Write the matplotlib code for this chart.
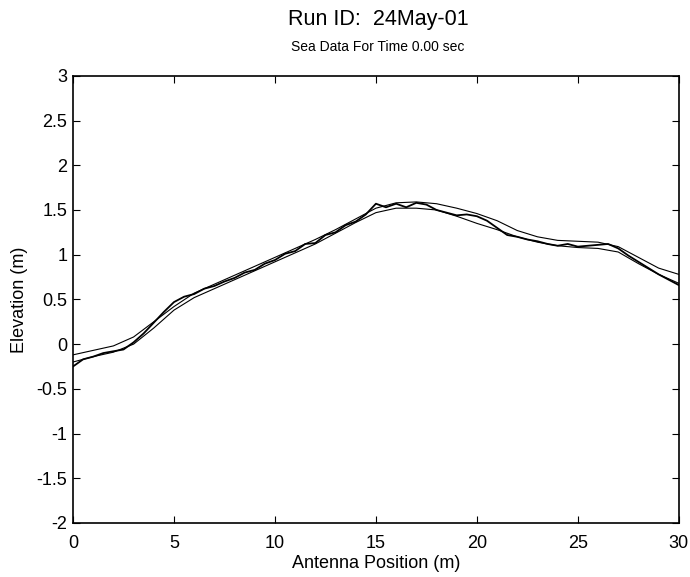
import numpy as np
import matplotlib.pyplot as plt

plt.rcParams['font.family'] = ['Liberation Sans', 'DejaVu Sans']

# smooth records, sampled every 1 m
x_smooth = np.arange(0, 31, 1)
elev_upper = [-0.12, -0.07, -0.02, 0.08, 0.25, 0.42, 0.57, 0.67, 0.77, 0.87,
              0.97, 1.07, 1.17, 1.28, 1.40, 1.52, 1.58, 1.59, 1.57, 1.52,
              1.46, 1.38, 1.27, 1.20, 1.16, 1.15, 1.14, 1.09, 0.97, 0.85, 0.78]
elev_lower = [-0.20, -0.14, -0.09, 0.00, 0.18, 0.38, 0.52, 0.62, 0.72, 0.82,
              0.92, 1.02, 1.12, 1.24, 1.36, 1.47, 1.52, 1.52, 1.50, 1.43,
              1.35, 1.28, 1.20, 1.14, 1.10, 1.08, 1.07, 1.03, 0.90, 0.78, 0.68]

# measured (jagged) record, sampled every 0.5 m
x_meas = np.arange(0, 30.5, 0.5)
elev_meas = [-0.25, -0.17, -0.14, -0.10, -0.08, -0.06, 0.02, 0.12, 0.24, 0.36,
             0.47, 0.53, 0.56, 0.62, 0.65, 0.70, 0.74, 0.80, 0.83, 0.90,
             0.94, 1.01, 1.04, 1.12, 1.13, 1.22, 1.25, 1.33, 1.37, 1.45,
             1.57, 1.53, 1.57, 1.53, 1.58, 1.56, 1.50, 1.47, 1.44, 1.45,
             1.43, 1.38, 1.30, 1.22, 1.20, 1.17, 1.15, 1.12, 1.10, 1.12,
             1.09, 1.10, 1.11, 1.12, 1.07, 0.99, 0.92, 0.85, 0.78, 0.72, 0.66]

fig = plt.figure(figsize=(6.9, 5.77), dpi=100)
ax = fig.add_axes([0.1058, 0.0936, 0.878, 0.775])

ax.plot(x_smooth, elev_upper, color='black', lw=0.8)
ax.plot(x_smooth, elev_lower, color='black', lw=0.8)
ax.plot(x_meas, elev_meas, color='black', lw=1.3)

ax.set_xlim(0, 30)
ax.set_ylim(-2, 3)
ax.set_xticks(np.arange(0, 31, 5))
ax.set_yticks(np.arange(-2, 3.01, 0.5))
ax.set_yticklabels(['-2', '-1.5', '-1', '-0.5', '0', '0.5', '1', '1.5', '2', '2.5', '3'])
ax.tick_params(direction='in', top=True, right=True, length=5, labelsize=13)
ax.tick_params(axis='x', pad=9)
ax.tick_params(axis='y', pad=4)
for s in ax.spines.values():
    s.set_linewidth(1.2)

ax.set_xlabel('Antenna Position (m)', fontsize=13, labelpad=2)
ax.set_ylabel('Elevation (m)', fontsize=13, labelpad=6)

fig.text(0.548, 0.966, 'Run ID:  24May-01', ha='center', va='center', fontsize=15.5)
fig.text(0.548, 0.918, 'Sea Data For Time 0.00 sec', ha='center', va='center', fontsize=10)

fig.savefig('out.png', dpi=100)
